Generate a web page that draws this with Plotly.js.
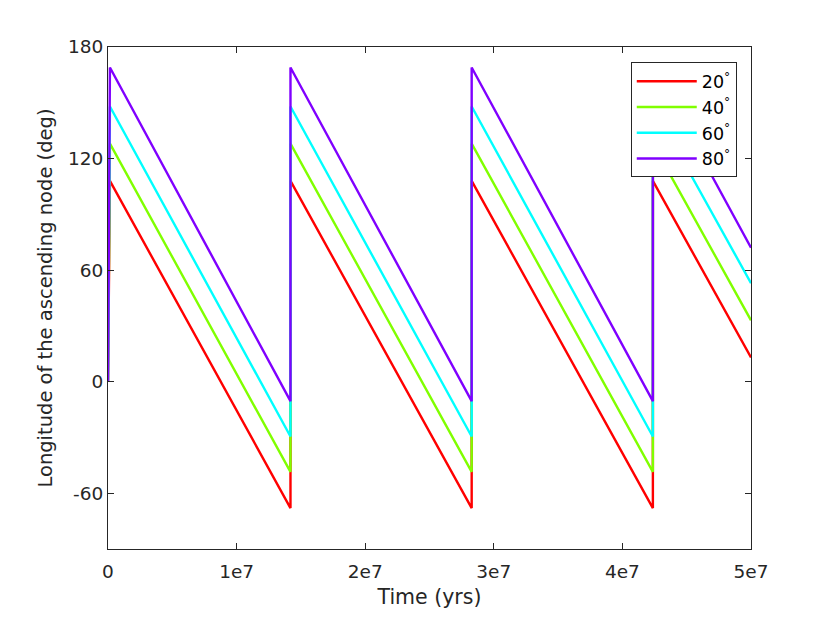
<!DOCTYPE html>
<html>
<head>
<meta charset="utf-8">
<script src="https://cdn.plot.ly/plotly-3.0.1.min.js"></script>
<style>html,body{margin:0;padding:0;background:#fff;}#chart{width:831px;height:619px;}</style>
</head>
<body>
<div id="chart"></div>
<script>
// Time breakpoints (years)
var timeYrs = [0, 1.5e5, 1.419e7, 1.419e7, 2.828e7, 2.828e7, 4.237e7, 4.237e7, 5e7];
// Longitude of the ascending node (deg) at those times
var node20 = [0, 108, -68, 108, -68, 108, -68, 108, 13];
var node40 = [0, 128, -48.5, 128, -48.5, 128, -48.5, 128, 33];
var node60 = [0, 148, -29.5, 148, -29.5, 148, -29.5, 148, 53];
var node80 = [0, 169, -10.5, 169, -10.5, 169, -10.5, 169, 72];
var seriesNames = ['20<sup>°</sup>', '40<sup>°</sup>', '60<sup>°</sup>', '80<sup>°</sup>'];
var seriesColors = ['#ff0000', '#80ff00', '#00ffff', '#8000ff'];
var xTickVals = [0, 1e7, 2e7, 3e7, 4e7, 5e7];
var xTickText = ['0', '1e7', '2e7', '3e7', '4e7', '5e7'];
var yTickVals = [-60, 0, 60, 120, 180];
var yTickText = ['-60', '0', '60', '120', '180'];

var ys = [node20, node40, node60, node80];
var traces = ys.map(function (y, i) {
  return {
    x: timeYrs, y: y, type: 'scatter', mode: 'lines',
    name: seriesNames[i],
    line: {color: seriesColors[i], width: 2.4}
  };
});

var axisCommon = {
  showgrid: false, zeroline: false, showline: true, mirror: 'ticks',
  linecolor: '#262626', linewidth: 1, ticks: 'inside', ticklen: 6,
  tickcolor: '#262626', tickfont: {family: 'DejaVu Sans', size: 18.5, color: '#262626'}
};

var layout = {
  width: 831, height: 619,
  margin: {l: 108, r: 80, t: 47, b: 70},
  paper_bgcolor: '#fff', plot_bgcolor: '#fff',
  font: {family: 'DejaVu Sans', color: '#262626'},
  xaxis: Object.assign({}, axisCommon, {
    range: [0, 5e7], tickvals: xTickVals, ticktext: xTickText,
    ticklabelstandoff: 6,
    title: {text: 'Time (yrs)', font: {family: 'DejaVu Sans', size: 20.5, color: '#262626'}, standoff: 8}
  }),
  yaxis: Object.assign({}, axisCommon, {
    range: [-90, 180], tickvals: yTickVals, ticktext: yTickText,
    title: {text: 'Longitude of the ascending node (deg)', font: {family: 'DejaVu Sans', size: 19.5, color: '#262626'}, standoff: 10}
  }),
  showlegend: true,
  legend: {
    x: 0.813, y: 0.9695, xanchor: 'left', yanchor: 'top',
    bgcolor: '#fff', bordercolor: '#262626', borderwidth: 1,
    font: {family: 'DejaVu Sans', size: 17.5, color: '#000'},
    itemwidth: 60,
    tracegroupgap: 0
  }
};

Plotly.newPlot('chart', traces, layout, {displayModeBar: false, staticPlot: true});
</script>
</body>
</html>
